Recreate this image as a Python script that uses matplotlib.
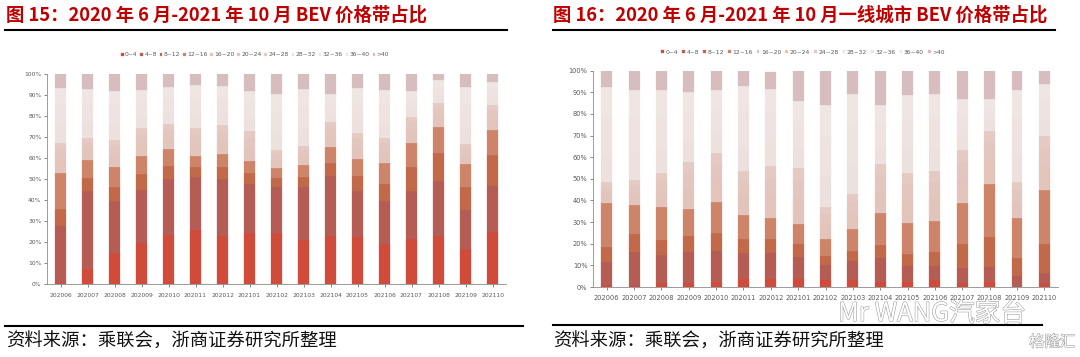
import matplotlib
matplotlib.use("Agg")
import numpy as np
import matplotlib.pyplot as plt
from matplotlib.lines import Line2D
import matplotlib.patheffects as pe

plt.rcParams["font.family"] = ["Noto Sans CJK SC", "DejaVu Sans"]

# ---- data -------------------------------------------------------------------
months = ["202006", "202007", "202008", "202009", "202010", "202011", "202012",
          "202101", "202102", "202103", "202104", "202105", "202106", "202107",
          "202108", "202109", "202110"]
bands = ["0~4", "4~8", "8~12", "12~16", "16~20", "20~24", "24~28",
         "28~32", "32~36", "36~40", ">40"]

# 图 15: 全国 BEV 价格带占比 (%)
all_0_4 = [0.5, 7.3, 15.0, 19.5, 23.3, 25.9, 23.0, 24.3, 24.3, 21.1, 23.0, 22.4, 19.0, 21.6, 23.0, 16.7, 25.1]
all_4_8 = [27.4, 37.1, 24.7, 25.4, 26.7, 25.1, 27.0, 23.5, 22.2, 25.4, 28.6, 22.2, 20.8, 23.0, 26.2, 18.7, 21.7]
all_8_12 = [7.8, 6.4, 6.8, 7.5, 6.5, 5.0, 6.0, 5.4, 4.0, 4.8, 6.0, 7.0, 8.0, 11.4, 13.5, 10.8, 14.8]
all_12_16 = [17.2, 8.6, 9.5, 8.9, 7.8, 5.3, 6.1, 5.7, 4.7, 5.4, 7.6, 7.9, 9.8, 11.5, 12.1, 11.1, 11.9]
all_16_20 = [6.6, 4.6, 5.7, 5.9, 5.4, 5.9, 6.2, 6.3, 4.0, 4.1, 5.4, 5.7, 5.5, 5.5, 5.1, 4.2, 5.4]
all_20_24 = [4.8, 3.4, 4.2, 4.3, 4.0, 4.3, 4.6, 4.7, 2.9, 3.0, 3.9, 4.2, 4.0, 4.1, 3.8, 3.1, 3.9]
all_24_28 = [3.2, 2.3, 2.8, 2.8, 2.6, 2.8, 3.0, 3.1, 1.9, 2.1, 2.6, 2.8, 2.7, 2.7, 2.5, 2.1, 2.6]
all_28_32 = [7.8, 7.0, 7.1, 5.5, 5.3, 6.2, 5.6, 5.8, 8.0, 8.1, 4.1, 6.3, 6.8, 3.7, 3.3, 8.1, 3.2]
all_32_36 = [10.4, 9.3, 9.4, 7.3, 7.0, 8.2, 7.4, 7.7, 10.6, 10.8, 5.4, 8.4, 9.1, 4.9, 4.4, 10.8, 4.3]
all_36_40 = [7.9, 7.0, 7.0, 5.4, 5.2, 6.2, 5.5, 5.7, 8.0, 8.1, 4.0, 6.4, 6.8, 3.7, 3.3, 8.2, 3.3]
all_40p = [6.4, 7.0, 7.8, 7.5, 6.2, 5.1, 5.6, 7.8, 9.4, 7.1, 9.4, 6.7, 7.5, 7.9, 6.8, 6.2, 3.8]

# 图 16: 一线城市 BEV 价格带占比 (%)
t1_0_4 = [0.9, 0.5, 1.7, 2.0, 2.3, 3.5, 3.5, 3.9, 3.2, 3.2, 2.3, 2.3, 3.2, 2.0, 2.5, 0.2, 2.0]
t1_4_8 = [10.5, 15.8, 13.1, 14.3, 14.5, 12.4, 12.1, 10.1, 7.0, 9.0, 11.0, 7.4, 6.5, 6.6, 6.6, 4.9, 4.6]
t1_8_12 = [7.2, 8.2, 6.9, 7.3, 8.3, 6.4, 6.7, 5.9, 4.1, 4.6, 6.1, 5.6, 6.5, 11.3, 14.2, 8.5, 13.1]
t1_12_16 = [20.4, 13.4, 15.1, 12.6, 14.1, 11.0, 9.8, 9.2, 7.7, 9.9, 15.0, 14.4, 14.2, 19.1, 24.3, 18.3, 25.1]
t1_16_20 = [4.3, 5.2, 7.2, 9.8, 10.3, 9.1, 10.7, 11.6, 6.8, 7.3, 10.1, 10.3, 10.4, 10.9, 11.1, 7.6, 11.3]
t1_20_24 = [3.1, 3.8, 5.3, 7.2, 7.5, 6.7, 7.8, 8.5, 5.0, 5.4, 7.4, 7.5, 7.7, 8.0, 8.2, 5.5, 8.3]
t1_24_28 = [2.1, 2.6, 3.6, 4.7, 5.0, 4.5, 5.2, 5.7, 3.3, 3.6, 5.0, 5.0, 5.1, 5.4, 5.4, 3.7, 5.5]
t1_28_32 = [13.1, 12.5, 11.5, 9.7, 8.8, 11.8, 10.7, 9.4, 14.1, 13.9, 8.1, 10.9, 10.7, 7.0, 4.4, 12.7, 7.2]
t1_32_36 = [17.5, 16.6, 15.3, 12.9, 11.7, 15.7, 14.3, 12.5, 18.8, 18.5, 10.8, 14.5, 14.2, 9.4, 5.9, 17.0, 9.6]
t1_36_40 = [13.2, 12.5, 11.4, 9.6, 8.8, 11.8, 10.8, 9.3, 14.1, 13.8, 8.2, 10.9, 10.7, 7.0, 4.5, 12.7, 7.2]
t1_40p = [7.7, 8.9, 8.9, 9.9, 8.9, 7.1, 8.0, 13.9, 15.9, 10.8, 16.0, 11.2, 10.8, 13.3, 12.9, 8.9, 6.5]

colors = ["#D14B3B", "#B55D55", "#C2694A", "#CE8468", "#E2C4BB", "#E3C7BF",
          "#E4CAC2", "#EDE1DD", "#EEE3E0", "#EFE5E2", "#D8BDBF"]

TITLE_RED = "#C00000"
W, H = 1080, 357


def fx(px):
    return px / W


def fy(py):
    return 1 - py / H


def stacked(ax, series, tick_fs):
    x = np.arange(len(months))
    bottom = np.zeros(len(months))
    for name, vals, c in zip(bands, series, colors):
        v = np.array(vals) / 100.0
        ax.bar(x, v, bottom=bottom, width=0.4, color=c, label=name,
               edgecolor=c, linewidth=0.2)
        bottom += v
    ax.set_xlim(-0.5, len(months) - 0.5)
    ax.set_ylim(0, 1.0)
    yt = np.arange(0, 1.01, 0.1)
    ax.set_yticks(yt)
    ax.set_yticklabels([f"{int(round(t * 100))}%" for t in yt])
    ax.set_xticks(x)
    ax.set_xticklabels(months)
    ax.tick_params(axis="both", labelsize=tick_fs, colors="#595959", length=2, width=0.5, pad=2)
    ax.tick_params(axis="x", pad=4)
    for s in ("top", "right"):
        ax.spines[s].set_visible(False)
    for s in ("left", "bottom"):
        ax.spines[s].set_color("#8C8C8C")
        ax.spines[s].set_linewidth(0.6)
    for lab in ax.get_xticklabels() + ax.get_yticklabels():
        lab.set_family(["DejaVu Sans"])


def legend_row(fig, ax, x_center, y, spacing):
    h, l = ax.get_legend_handles_labels()
    fig.legend(h, l, loc="center", bbox_to_anchor=(fx(x_center), fy(y)), ncol=11,
               frameon=False, handlelength=0.45, handleheight=0.45,
               handletextpad=0.25, columnspacing=spacing, labelcolor="#595959",
               borderpad=0, prop={"family": ["DejaVu Sans"], "size": 4.3})


fig = plt.figure(figsize=(10.8, 3.57), dpi=100)

ax1 = fig.add_axes([fx(47), fy(284.3), fx(506 - 47), (284.3 - 74.3) / H])
stacked(ax1, [all_0_4, all_4_8, all_8_12, all_12_16, all_16_20, all_20_24, all_24_28,
              all_28_32, all_32_36, all_36_40, all_40p], 4.3)
legend_row(fig, ax1, 255, 55, 0.45)

ax2 = fig.add_axes([fx(593), fy(287), fx(1058 - 593), (287 - 70.7) / H])
stacked(ax2, [t1_0_4, t1_4_8, t1_8_12, t1_12_16, t1_16_20, t1_20_24, t1_24_28,
              t1_28_32, t1_32_36, t1_36_40, t1_40p], 4.8)
legend_row(fig, ax2, 803, 52, 0.7)

# titles, rules and sources
fig.text(fx(6), fy(15), "图 15：2020 年 6 月-2021 年 10 月 BEV 价格带占比",
         color=TITLE_RED, fontsize=13.2, fontweight="bold", va="center", ha="left")
fig.text(fx(553), fy(15), "图 16：2020 年 6 月-2021 年 10 月一线城市 BEV 价格带占比",
         color=TITLE_RED, fontsize=13.2, fontweight="bold", va="center", ha="left")

for x0, x1, y in [(5, 507, 30), (553, 1055, 30), (5, 523, 326), (553, 1042, 325)]:
    fig.add_artist(Line2D([fx(x0), fx(x1)], [fy(y), fy(y)], transform=fig.transFigure,
                          color="black", linewidth=1.5))

src = "资料来源：乘联会，浙商证券研究所整理"
fig.text(fx(6), fy(342), src, fontsize=13.2, va="center", ha="left", color="#111111")
fig.text(fx(553), fy(342), src, fontsize=13.2, va="center", ha="left", color="#111111")

# watermark
wm = [pe.withStroke(linewidth=0.8, foreground="#A0A0A0")]
fig.text(fx(838), fy(314), "Mr WANG汽家台", fontsize=18.5, color="white",
         va="center", ha="left", path_effects=wm)
fig.text(fx(1075), fy(342), "格隆汇", fontsize=11, color="white",
         va="center", ha="right", path_effects=wm)

fig.savefig("out.png", dpi=100)
